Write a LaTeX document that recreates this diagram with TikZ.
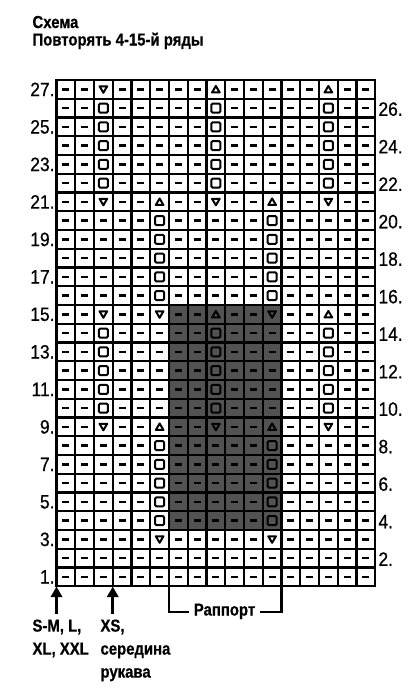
\documentclass[tikz,border=0pt]{standalone}
\usepackage{fontspec}
\setmainfont{Liberation Sans}
\newfontfamily\numfont{Liberation Sans}[FakeStretch=0.9, FakeBold=0.6]
\newfontfamily\lblfont{Liberation Sans}[FakeStretch=0.86, FakeBold=0.6]
\usetikzlibrary{arrows.meta}

\definecolor{rapgray}{RGB}{82,82,82}

\tikzset{every picture/.style={line width=0.75pt}}
\tikzset{
  gridline/.style={line width=1.8pt},
  knitdash/.style={line width=1.7pt},
  sqmark/.style={line width=1.5pt, rounded corners=0.8pt},
  trimark/.style={line width=1.5pt, line join=round},
  sizearrow/.style={line width=2.2pt, -{Triangle[width=8.5pt,length=8pt]}},
  bracket/.style={line width=2pt},
  rownum/.style={inner sep=0pt, font=\numfont\fontsize{14.5}{15}\selectfont},
  lbltext/.style={inner sep=0pt, font=\lblfont\bfseries\fontsize{13}{17.25}\selectfont},
}

% cell centres: column 1..17 from left, row 1..27 from bottom
\newcommand{\cellx}[1]{56.5+18.75*(#1-0.5)}
\newcommand{\celly}[1]{80+18.75*(27.5-#1)}
\newcommand{\knitdash}[2]{\draw[knitdash] ({\cellx{#1}-3.4},{\celly{#2}}) -- ({\cellx{#1}+3.4},{\celly{#2}});}
\newcommand{\sqmark}[2]{\draw[sqmark] ({\cellx{#1}-4.4},{\celly{#2}-4.4}) rectangle ({\cellx{#1}+4.4},{\celly{#2}+4.4});}
\newcommand{\triup}[2]{\draw[trimark] ({\cellx{#1}},{\celly{#2}-3.4}) -- ({\cellx{#1}+3.8},{\celly{#2}+3.1}) -- ({\cellx{#1}-3.8},{\celly{#2}+3.1}) -- cycle;}
\newcommand{\tridown}[2]{\draw[trimark] ({\cellx{#1}},{\celly{#2}+3.4}) -- ({\cellx{#1}+3.8},{\celly{#2}-3.1}) -- ({\cellx{#1}-3.8},{\celly{#2}-3.1}) -- cycle;}

\begin{document}
\begin{tikzpicture}[x=0.75pt,y=0.75pt,yscale=-1,xscale=1]
\useasboundingbox (0,0) rectangle (412,690);

%Shape: Rectangle [rapport shading]
\fill[rapgray] (169,305) rectangle (281.5,530);

%Shape: Grid
\foreach \i in {1,...,16}
  \draw[gridline] ({56.5+18.75*\i},80) -- ({56.5+18.75*\i},586.25);
\foreach \r in {1,...,26}
  \draw[gridline] (56.5,{80+18.75*\r}) -- (375.25,{80+18.75*\r});
\draw[gridline] (56.5,80) rectangle (375.25,586.25);

%Dashes
\foreach \i in {1,2,4,5,7,8,10,11,13,14,16,17} {
  \foreach \r in {1,...,27} {\knitdash{\i}{\r}}
}
\foreach \i in {3,9,15} {
  \foreach \r in {1,2,3,4,5,6,7,8,16,17,18,19,20} {\knitdash{\i}{\r}}
}
\foreach \i in {6,12} {
  \foreach \r in {1,2,10,11,12,13,14,22,23,24,25,26,27} {\knitdash{\i}{\r}}
}

%Squares
\foreach \i in {3,9,15} {
  \foreach \r in {10,11,12,13,14,22,23,24,25,26} {\sqmark{\i}{\r}}
}
\foreach \i in {6,12} {
  \foreach \r in {4,5,6,7,8,16,17,18,19,20} {\sqmark{\i}{\r}}
}

%Triangles
\foreach \r in {27,21,15,9} {\tridown{3}{\r}}
\foreach \i in {9,15} {
  \triup{\i}{27} \triup{\i}{15} \tridown{\i}{21} \tridown{\i}{9}
}
\foreach \i in {6,12} {
  \triup{\i}{21} \triup{\i}{9} \tridown{\i}{15} \tridown{\i}{3}
}

% Row numbers
\foreach \r in {1,3,...,27}
  \draw (55,{\celly{\r}}) node [anchor=east][rownum] (num\r) {\r.};
\foreach \r in {2,4,...,26}
  \draw (378,{\celly{\r}+1}) node [anchor=west][rownum] (num\r) {\r.};

% Text Node
\draw (32,28) node [anchor=base west][lbltext] (titleA) {Схема};
% Text Node
\draw (32,45.5) node [anchor=base west][lbltext] (titleB) {Повторять 4-15-й ряды};
% Text Node
\draw (32,619) node [anchor=north west][lbltext, align=left] (smLbl) {S-M, L,\\XL, XXL};
% Text Node
\draw (100,619) node [anchor=north west][lbltext, align=left] (xsLbl) {XS,\\середина\\рукава};
% Text Node
\draw (224.5,612) node [anchor=mid][lbltext, inner sep=3.5pt] (rapLbl) {Раппорт};

%Arrows
\coordinate (smTip) at (56.5,586.5);
\coordinate (smTail) at (56.5,614);
\draw[sizearrow] (smTail) -- (smTip);
\coordinate (xsTip) at (112.75,586.5);
\coordinate (xsTail) at (112.75,614);
\draw[sizearrow] (xsTail) -- (xsTip);

%Bracket
\coordinate (rapL) at (169,586.25);
\coordinate (rapR) at (281.5,586.25);
\draw[bracket] (rapL) |- (rapLbl.mid west);
\draw[bracket] (rapR) |- (rapLbl.mid east);

\end{tikzpicture}
\end{document}
